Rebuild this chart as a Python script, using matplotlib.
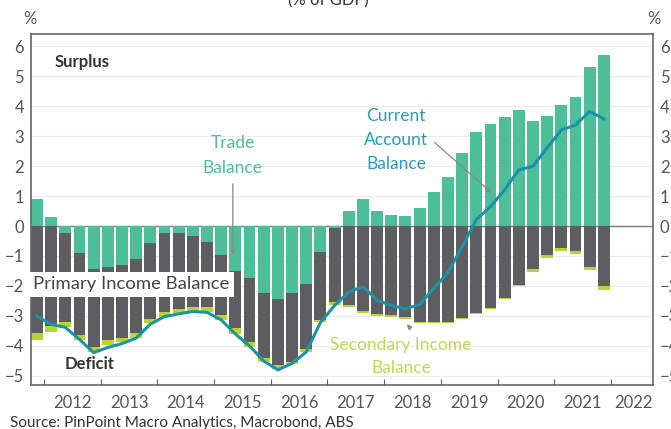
import matplotlib
matplotlib.use("Agg")
import matplotlib.pyplot as plt
import numpy as np

plt.rcParams['font.family'] = ['Lato', 'DejaVu Sans']

# quarterly data, % of GDP
quarters = ["2011Q4",
            "2012Q1", "2012Q2", "2012Q3", "2012Q4",
            "2013Q1", "2013Q2", "2013Q3", "2013Q4",
            "2014Q1", "2014Q2", "2014Q3", "2014Q4",
            "2015Q1", "2015Q2", "2015Q3", "2015Q4",
            "2016Q1", "2016Q2", "2016Q3", "2016Q4",
            "2017Q1", "2017Q2", "2017Q3", "2017Q4",
            "2018Q1", "2018Q2", "2018Q3", "2018Q4",
            "2019Q1", "2019Q2", "2019Q3", "2019Q4",
            "2020Q1", "2020Q2", "2020Q3", "2020Q4",
            "2021Q1", "2021Q2", "2021Q3", "2021Q4"]

trade = [0.89, 0.29, -0.22, -0.91, -1.45, -1.38, -1.30, -1.11, -0.58, -0.22,
         -0.22, -0.33, -0.52, -0.97, -1.50, -1.74, -2.24, -2.44, -2.22, -1.93,
         -0.86, -0.05, 0.51, 0.89, 0.51, 0.37, 0.34, 0.59, 1.14, 1.64,
         2.42, 3.14, 3.40, 3.64, 3.87, 3.51, 3.67, 4.03, 4.31, 5.31, 5.70]

primary = [-3.57, -3.35, -2.97, -2.72, -2.60, -2.42, -2.44, -2.47, -2.53, -2.64,
           -2.56, -2.36, -2.19, -2.00, -1.90, -2.12, -2.17, -2.20, -2.30, -2.18,
           -2.27, -2.50, -2.63, -2.82, -2.93, -2.97, -3.04, -3.19, -3.19, -3.21,
           -3.08, -2.90, -2.73, -2.40, -1.96, -1.44, -0.97, -0.74, -0.83, -1.36, -2.00]

secondary = [-0.23, -0.20, -0.17, -0.17, -0.15, -0.17, -0.12, -0.16, -0.13, -0.16,
             -0.13, -0.13, -0.15, -0.16, -0.20, -0.16, -0.11, -0.12, -0.08, -0.08,
             -0.08, -0.08, -0.08, -0.07, -0.07, -0.05, -0.06, -0.03, -0.03, -0.03,
             -0.03, -0.03, -0.03, -0.03, -0.04, -0.08, -0.09, -0.09, -0.11, -0.11, -0.13]

current_account = [-3.00, -3.28, -3.38, -3.78, -4.22, -4.05, -3.92, -3.74, -3.27, -3.02,
                   -2.93, -2.85, -2.88, -3.13, -3.60, -4.00, -4.50, -4.80, -4.58, -4.20,
                   -3.22, -2.65, -2.20, -2.02, -2.47, -2.65, -2.76, -2.62, -2.08, -1.55,
                   -0.70, 0.22, 0.64, 1.21, 1.87, 1.99, 2.61, 3.20, 3.37, 3.82, 3.57]

years = list(range(2012, 2023))

GREEN = "#4cbf98"
GREY = "#5e5e62"
YELLOW = "#b9d430"
TEAL = "#1b93a6"
TXT = "#555555"

x = np.array([int(q[:4]) + (int(q[-1]) - 1) / 4 + 0.125 for q in quarters])
trade = np.array(trade)
primary = np.array(primary)
secondary = np.array(secondary)

fig = plt.figure(figsize=(6.71, 4.29), dpi=100)
ax = fig.add_axes([0.0462, 0.1026, 0.9268, 0.8181])

w = 0.21
trade_neg = np.minimum(trade, 0)
ax.bar(x, trade, width=w, color=GREEN, zorder=2)
ax.bar(x, primary, width=w, bottom=trade_neg, color=GREY, zorder=2)
ax.bar(x, secondary, width=w, bottom=trade_neg + primary, color=YELLOW, zorder=2)
ax.plot(x, current_account, color=TEAL, lw=2.2, zorder=3)

ax.axhline(0, color="#777777", lw=1.0, zorder=1)
ax.set_ylim(-5.3, 6.4)
ax.set_xlim(2011.77, 2022.74)
ax.set_yticks(range(-5, 7))
ax.yaxis.grid(True, color="#ececec", lw=0.8, zorder=0)
ax.set_axisbelow(True)

# year boundary ticks, labels in the middle of each year
ax.set_xticks(years)
ax.set_xticklabels([])
ax.tick_params(axis="x", which="major", direction="in", length=4, color="#666666")
lab_pos = [min(y + 0.5, 2022.39) for y in years]
ax.set_xticks(lab_pos, minor=True)
ax.set_xticklabels([str(y) for y in years], minor=True)
ax.tick_params(axis="x", which="minor", length=0, pad=7, labelsize=12, labelcolor=TXT)
ax.tick_params(axis="y", length=0, labelsize=12, labelcolor=TXT, pad=5,
               right=False, labelright=True)
for s in ax.spines.values():
    s.set_color("#666666")
    s.set_linewidth(1.2)

# annotations
ax.text(2012.19, 5.47, "Surplus", fontsize=12, fontweight="bold", color="#333333", va="center")
ax.text(2012.37, -4.6, "Deficit", fontsize=12, fontweight="bold", color="#333333", va="center")
ax.text(2015.33, 2.35, "Trade\nBalance", fontsize=12.5, color=GREEN, ha="center", va="center",
        linespacing=1.65)
ax.annotate("", xy=(2015.33, -1.07), xytext=(2015.33, 1.5),
            arrowprops=dict(arrowstyle="-|>", color="#8a8a8a", lw=0.9, mutation_scale=7))
ax.text(2018.21, 2.87, "Current\nAccount\nBalance", fontsize=12.5, color="#2a9bb8",
        ha="center", va="center", linespacing=1.6)
ax.annotate("", xy=(2019.93, 1.05), xytext=(2018.85, 2.85),
            arrowprops=dict(arrowstyle="-|>", color="#8a8a8a", lw=0.9, mutation_scale=7))
ax.text(2018.3, -4.35, "Secondary Income\nBalance", fontsize=12.5, color="#c3d45a",
        ha="center", va="center", linespacing=1.55)
ax.annotate("", xy=(2018.37, -3.2), xytext=(2018.5, -3.5),
            arrowprops=dict(arrowstyle="-|>", color="#8a8a8a", lw=0.9, mutation_scale=7))
ax.text(2011.81, -1.95, "Primary Income Balance", fontsize=13.3, color="#444444", va="center",
        bbox=dict(facecolor="white", edgecolor="none", pad=3), zorder=5)

fig.text(0.045, 0.955, "%", fontsize=12, color=TXT, ha="center", va="center")
fig.text(0.975, 0.955, "%", fontsize=12, color=TXT, ha="center", va="center")
fig.text(0.49, 1.0, "(% of GDP)", fontsize=12, color="#333333", ha="center", va="center")
fig.text(0.015, 0.014, "Source: PinPoint Macro Analytics, Macrobond, ABS", fontsize=11,
         color="#333333", ha="left", va="center")

fig.savefig("out.png", dpi=100)
